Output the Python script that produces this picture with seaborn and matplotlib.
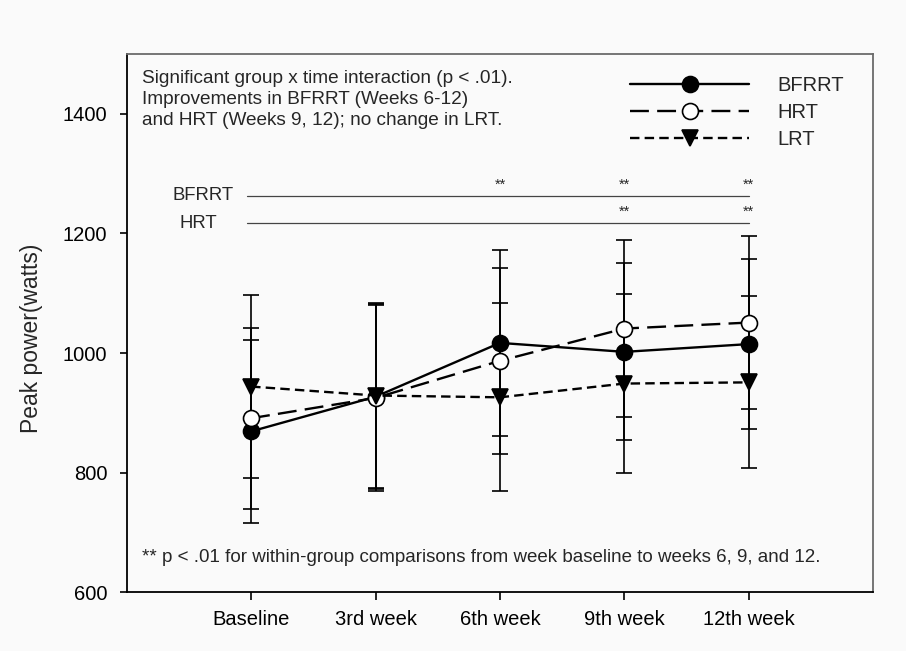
import numpy as np
import pandas as pd
import matplotlib
matplotlib.use("Agg")
import matplotlib.pyplot as plt
import seaborn as sns
from matplotlib.lines import Line2D

# ---- data ----
weeks = ["Baseline", "3rd week", "6th week", "9th week", "12th week"]
groups = ["BFRRT", "HRT", "LRT"]
bfrrt_mean = [869, 927, 1017, 1002, 1015]
bfrrt_sd = [153, 155, 155, 148, 142]
hrt_mean = [891, 925, 987, 1041, 1051]
hrt_sd = [151, 156, 155, 148, 144]
lrt_mean = [944, 929, 926, 949, 951]
lrt_sd = [153, 155, 157, 149, 144]
sig_bfrrt = ["6th week", "9th week", "12th week"]
sig_hrt = ["9th week", "12th week"]
sig_level = {"BFRRT": 1263, "HRT": 1217}

sns.set_style("ticks")
plt.rcParams["font.family"] = ["Liberation Sans", "DejaVu Sans"]

fig = plt.figure(figsize=(9.06, 6.51), dpi=100, facecolor="#fafafa")
ax = fig.add_axes([0.1398, 0.0902, 0.8241, 0.8268])
ax.set_facecolor("#fafafa")

xpos = np.arange(len(weeks))
means = {"BFRRT": bfrrt_mean, "HRT": hrt_mean, "LRT": lrt_mean}
sds = {"BFRRT": bfrrt_sd, "HRT": hrt_sd, "LRT": lrt_sd}
styles = {
    "BFRRT": dict(marker="o", markerfacecolor="black", linestyle="-"),
    "HRT": dict(marker="o", markerfacecolor="white", linestyle=(0, (8, 3.5))),
    "LRT": dict(marker="v", markerfacecolor="black", linestyle=(0, (4, 2.2))),
}

for g in groups:
    ax.errorbar(xpos, means[g], yerr=sds[g], fmt="none", ecolor="black",
                elinewidth=1.2, capsize=6, capthick=1.2, zorder=2)

for g in groups:
    df = pd.DataFrame({"x": xpos, "y": means[g]})
    st = styles[g]
    sns.lineplot(data=df, x="x", y="y", ax=ax, color="black", linewidth=1.7,
                 marker=st["marker"], markersize=11.5,
                 markerfacecolor=st["markerfacecolor"], markeredgecolor="black",
                 markeredgewidth=1.2, linestyle=st["linestyle"], zorder=3)

# significance lines
label_x = {"BFRRT": -0.635, "HRT": -0.578}
for g, lst in [("BFRRT", sig_bfrrt), ("HRT", sig_hrt)]:
    yv = sig_level[g]
    ax.plot([-0.03, 4.0], [yv, yv], color="#444444", linewidth=0.9, zorder=1)
    ax.text(label_x[g], yv, g, ha="left", va="center", fontsize=13.3)
    for w in lst:
        ax.text(weeks.index(w), yv + 7, "**", ha="center", va="bottom", fontsize=10.5)

ax.set_xlim(-1, 5)
ax.set_ylim(600, 1500)
ax.set_xticks(xpos)
ax.set_xticklabels(weeks)
ax.set_yticks([600, 800, 1000, 1200, 1400])
ax.tick_params(axis="both", labelsize=14.5, width=1.2, colors="black")
ax.tick_params(axis="y", length=4.8, pad=9)
ax.tick_params(axis="x", length=5.5, pad=7)
ax.set_xlabel("")
ax.set_ylabel("Peak power(watts)", fontsize=16.5)
ax.yaxis.set_label_coords(-0.112, 0.472)

for s in ["left", "bottom"]:
    ax.spines[s].set_color("black")
    ax.spines[s].set_linewidth(1.3)
for s in ["top", "right"]:
    ax.spines[s].set_color("#6a6a6a")
    ax.spines[s].set_linewidth(1.3)

ax.text(0.0205, 0.971,
        "Significant group x time interaction (p < .01).\n"
        "Improvements in BFRRT (Weeks 6-12)\n"
        "and HRT (Weeks 9, 12); no change in LRT.",
        transform=ax.transAxes, ha="left", va="top", fontsize=13.7, linespacing=1.31)
ax.text(0.0205, 0.064,
        "** p < .01 for within-group comparisons from week baseline to weeks 6, 9, and 12.",
        transform=ax.transAxes, ha="left", va="center", fontsize=13.5)

handles = []
for g in groups:
    st = styles[g]
    handles.append(Line2D([], [], color="black", linewidth=1.7, linestyle=st["linestyle"],
                          marker=st["marker"], markersize=11.5,
                          markerfacecolor=st["markerfacecolor"], markeredgecolor="black",
                          markeredgewidth=1.2))
leg = ax.legend(handles, groups, loc="upper right", bbox_to_anchor=(0.985, 0.993),
                frameon=False, fontsize=14.5, handlelength=5.9, handletextpad=1.4,
                labelspacing=0.4)

fig.savefig("out.png", dpi=100, facecolor=fig.get_facecolor())
